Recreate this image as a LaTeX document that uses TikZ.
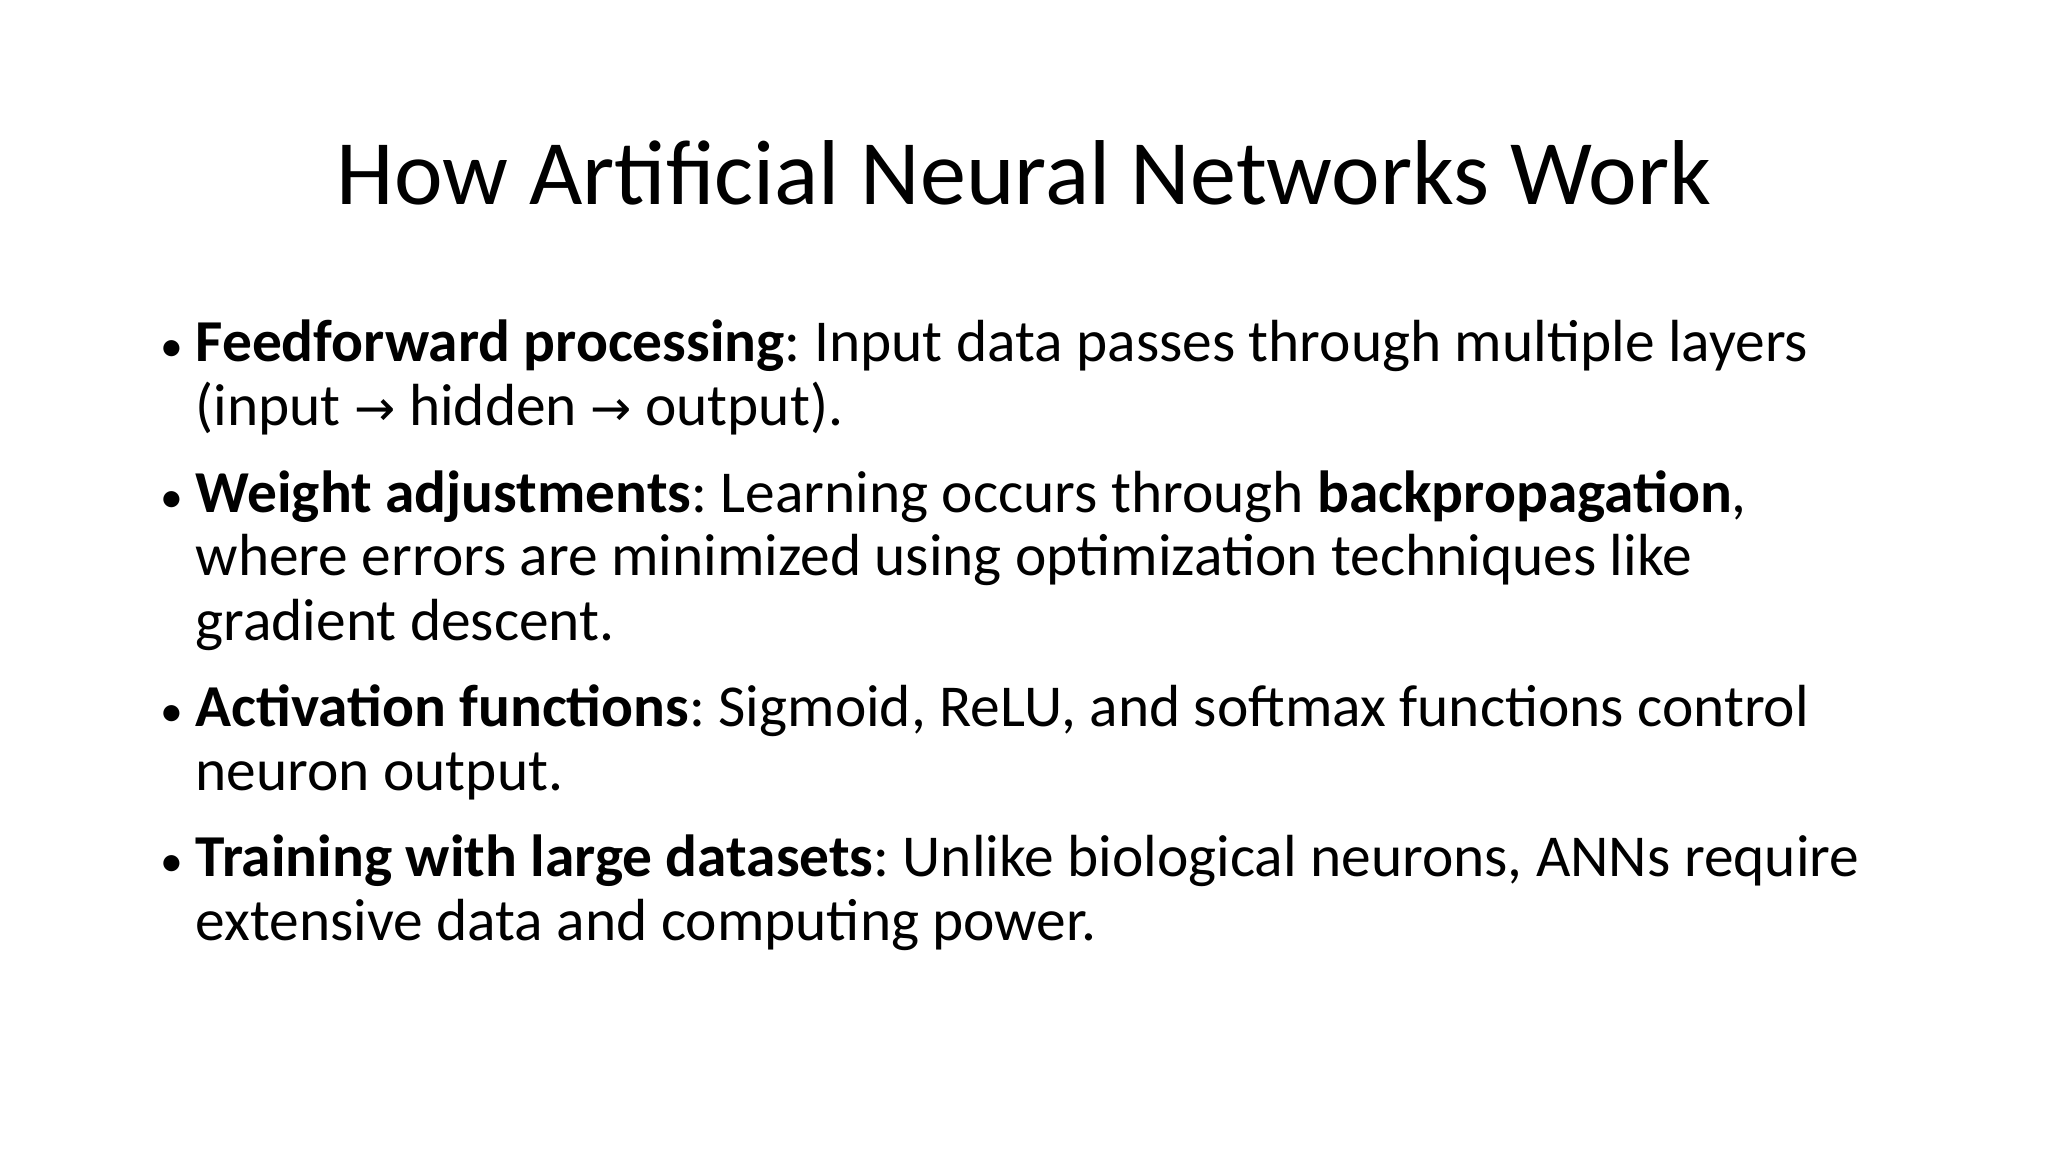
\documentclass[tikz,border=0pt]{standalone}
\usepackage{fontspec}
\setmainfont{Carlito}
\newfontfamily\symfont{DejaVu Sans}
\frenchspacing
\begin{document}
\begin{tikzpicture}[x=0.01cm,y=-0.01cm,
  body/.style={anchor=base west,inner sep=0pt,font=\fontsize{16.9}{20}\selectfont},
  bul/.style={anchor=base west,inner sep=0pt,font=\fontsize{13}{16}\selectfont}]
\useasboundingbox (0,0) rectangle (2048,1152);
\node[anchor=base,inner sep=0pt,font=\fontsize{26.2}{32}\selectfont] (title) at (1024,205) {How Artificial Neural Networks Work};
\def\ar{{\symfont\fontsize{14}{16}\selectfont→}}
\node[bul] (b1) at (160,362) {•};
\node[body] (l1) at (195,362) {\textbf{Feedforward processing}: Input data passes through multiple layers};
\node[body] (l2) at (195,426) {(input \ar{} hidden \ar{} output).};
\node[bul] (b2) at (160,512) {•};
\node[body] (l3) at (195,512) {\textbf{Weight adjustments}: Learning occurs through \textbf{backpropagation},};
\node[body] (l4) at (195,576) {where errors are minimized using optimization techniques like};
\node[body] (l5) at (195,640) {gradient descent.};
\node[bul] (b3) at (160,726) {•};
\node[body] (l6) at (195,726) {\textbf{Activation functions}: Sigmoid, ReLU, and softmax functions control};
\node[body] (l7) at (195,790) {neuron output.};
\node[bul] (b4) at (160,876) {•};
\node[body] (l8) at (195,876) {\textbf{Training with large datasets}: Unlike biological neurons, ANNs require};
\node[body] (l9) at (195,940) {extensive data and computing power.};
\end{tikzpicture}
\end{document}
